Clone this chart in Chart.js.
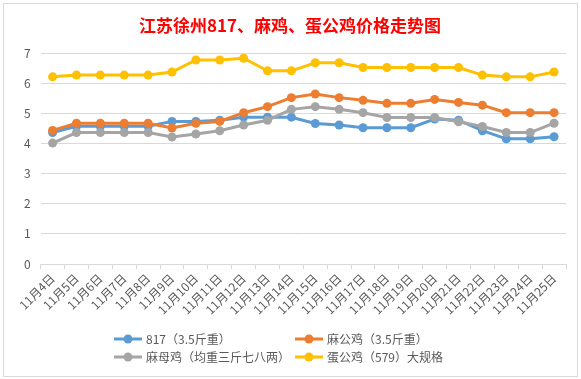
<!DOCTYPE html>
<html>
<head>
<meta charset="utf-8">
<script src="https://cdn.jsdelivr.net/npm/chart.js@4/dist/chart.umd.min.js"></script>
<style>
  html, body { margin: 0; padding: 0; background: #fff; }
  #wrap { width: 581px; height: 379px; }
</style>
</head>
<body>
<div id="wrap"><canvas id="price-chart" width="581" height="379"></canvas></div>
<script>
// 日期（横轴）
const days = ['11月4日', '11月5日', '11月6日', '11月7日', '11月8日', '11月9日', '11月10日', '11月11日',
  '11月12日', '11月13日', '11月14日', '11月15日', '11月16日', '11月17日', '11月18日', '11月19日',
  '11月20日', '11月21日', '11月22日', '11月23日', '11月24日', '11月25日'];

// 各品种价格（元/斤，从图上读取）
const price817 = [4.37, 4.58, 4.58, 4.58, 4.58, 4.74, 4.74, 4.78, 4.88, 4.88, 4.88, 4.67,
  4.62, 4.53, 4.53, 4.53, 4.82, 4.78, 4.43, 4.16, 4.16, 4.23];
const priceMaGong = [4.44, 4.68, 4.68, 4.68, 4.68, 4.52, 4.68, 4.74, 5.03, 5.23, 5.53, 5.65,
  5.53, 5.44, 5.34, 5.34, 5.47, 5.37, 5.28, 5.03, 5.03, 5.03];
const priceMaMu = [4.02, 4.37, 4.37, 4.37, 4.37, 4.22, 4.32, 4.43, 4.62, 4.78, 5.14, 5.23,
  5.14, 5.03, 4.87, 4.87, 4.87, 4.73, 4.57, 4.37, 4.37, 4.68];
const priceDanGong = [6.22, 6.28, 6.28, 6.28, 6.28, 6.38, 6.78, 6.78, 6.84, 6.42, 6.42, 6.69,
  6.69, 6.53, 6.53, 6.53, 6.53, 6.53, 6.28, 6.22, 6.22, 6.38];

const seriesNames = ['817（3.5斤重）', '麻公鸡（3.5斤重）', '麻母鸡（均重三斤七八两）', '蛋公鸡（579）大规格'];
const seriesColors = ['#5B9BD5', '#ED7D31', '#A5A5A5', '#FFC000'];
const yTicks = [0, 1, 2, 3, 4, 5, 6, 7];

const FONT = '"Noto Sans CJK SC", "Noto Sans", sans-serif';

function makeSet(i, values) {
  return {
    label: seriesNames[i],
    data: values,
    borderColor: seriesColors[i],
    backgroundColor: seriesColors[i],
    borderWidth: 3,
    pointRadius: 4.5,
    pointHoverRadius: 4.5,
    pointBorderWidth: 0,
    tension: 0,
    order: 4 - i // 后面的系列画在上面（和 Excel 一样）
  };
}

// 背景和外框
const framePlugin = {
  id: 'frame',
  beforeDraw(chart) {
    const ctx = chart.ctx;
    ctx.save();
    ctx.fillStyle = '#fff';
    ctx.fillRect(0, 0, chart.width, chart.height);
    ctx.strokeStyle = '#d9d9d9';
    ctx.lineWidth = 1;
    ctx.strokeRect(3.5, 3.5, 574, 373);
    ctx.restore();
  }
};

// 两行两列的图例
const legendPlugin = {
  id: 'gridLegend',
  afterDraw(chart) {
    const ctx = chart.ctx;
    const cols = [114, 295];
    const rows = [339, 357];
    ctx.save();
    ctx.font = '12px ' + FONT;
    ctx.textBaseline = 'middle';
    chart.data.datasets.forEach((ds, i) => {
      const x = cols[i % 2];
      const y = rows[Math.floor(i / 2)];
      ctx.strokeStyle = ds.borderColor;
      ctx.lineWidth = 3;
      ctx.beginPath();
      ctx.moveTo(x, y);
      ctx.lineTo(x + 28, y);
      ctx.stroke();
      ctx.fillStyle = ds.borderColor;
      ctx.beginPath();
      ctx.arc(x + 14, y, 4.5, 0, Math.PI * 2);
      ctx.fill();
      ctx.fillStyle = '#595959';
      ctx.fillText(ds.label, x + 32, y);
    });
    ctx.restore();
  }
};

const ctx = document.getElementById('price-chart').getContext('2d');
const chart = new Chart(ctx, {
  type: 'line',
  data: {
    labels: days,
    datasets: [
      makeSet(0, price817),
      makeSet(1, priceMaGong),
      makeSet(2, priceMaMu),
      makeSet(3, priceDanGong)
    ]
  },
  options: {
    responsive: false,
    animation: false,
    layout: { padding: { left: 14, right: 15, top: 0, bottom: 60 } },
    plugins: {
      legend: { display: false },
      tooltip: { enabled: false },
      title: {
        display: true,
        text: '江苏徐州817、麻鸡、蛋公鸡价格走势图',
        color: '#ff0000',
        font: { family: FONT, size: 17, weight: 'bold' },
        padding: { top: 15, bottom: 18 }
      }
    },
    scales: {
      x: {
        offset: true,
        grid: {
          offset: true,
          drawOnChartArea: false,
          drawTicks: true,
          tickLength: 5,
          color: '#d9d9d9'
        },
        border: { color: '#d9d9d9' },
        ticks: {
          autoSkip: false,
          minRotation: 45,
          maxRotation: 45,
          color: '#595959',
          font: { family: FONT, size: 12 },
          padding: 2
        }
      },
      y: {
        min: 0,
        max: 7,
        afterBuildTicks(axis) {
          axis.ticks = yTicks.map(v => ({ value: v }));
        },
        grid: { color: '#d9d9d9', drawTicks: false },
        border: { display: false },
        ticks: {
          color: '#595959',
          font: { family: FONT, size: 12 },
          padding: 10
        }
      }
    }
  },
  plugins: [framePlugin, legendPlugin]
});
</script>
</body>
</html>
